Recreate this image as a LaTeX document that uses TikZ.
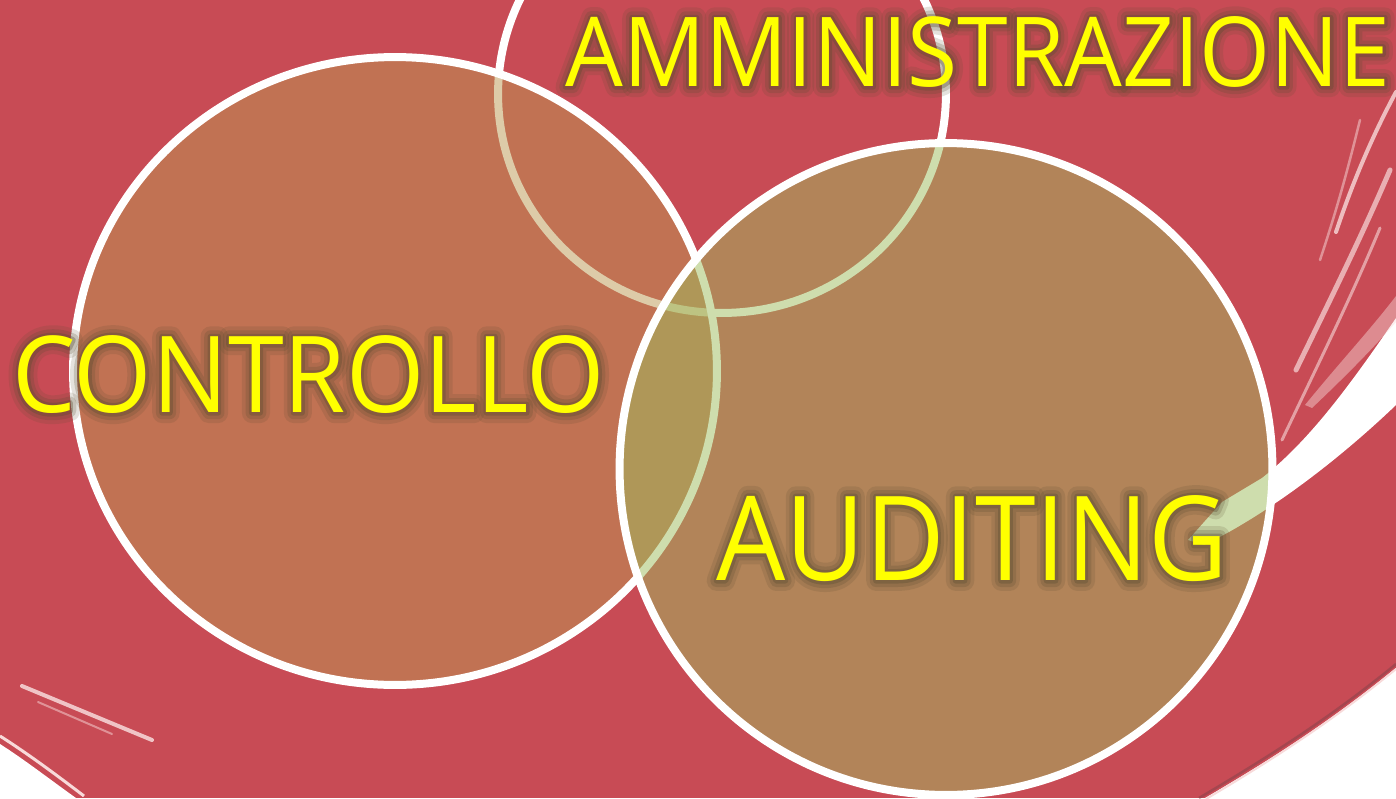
\documentclass[tikz,border=0pt]{standalone}
\usepackage{fontspec}
\setmainfont{Open Sans}
\definecolor{bgred}{HTML}{C84B55}
\definecolor{ctrlfill}{HTML}{BC9953}
\definecolor{audfill}{HTML}{9EBD5D}
\definecolor{glowc}{HTML}{5A4C30}
\definecolor{txtyellow}{HTML}{FFFF00}
\definecolor{streakc}{HTML}{F8DADA}
\definecolor{edgec}{HTML}{7A4048}

% #1 name, #2 x, #3 baseline y, #4 width, #5 height, #6 font size, #7 text
\newcommand\glowlabel[7]{%
  \foreach \glw/\glop in {12/0.16,7.5/0.22,3.5/0.34}{%
    \node[glowlbl] (#1-glow\glw) at (#2,#3) {\fontsize{#6}{#6}\selectfont
      \pgfsetstrokeopacity{\glop}%
      \special{pdf:literal direct 1 Tr \glw\space w 1 j 1 J}%
      \resizebox{#4}{#5}{#7}%
      \special{pdf:literal direct 0 Tr}};
  }%
  \node[lbl] (#1) at (#2,#3) {\fontsize{#6}{#6}\selectfont\resizebox{#4}{#5}{#7}};
}

\begin{document}
\begin{tikzpicture}[x=0.02cm,y=-0.02cm,
  ring/.style={draw=white,line width=0.16cm},
  glowlbl/.style={inner sep=0pt,anchor=south west,text=glowc},
  lbl/.style={inner sep=0pt,anchor=south west,text=txtyellow},
  streakline/.style={draw=streakc,line cap=round,line join=round}]

\useasboundingbox (0,0) rectangle (1396,798);
\clip (0,0) rectangle (1396,798);

% background
\fill[bgred] (0,0) rectangle (1396,798);

% white corners
\fill[white] (1396,668) .. controls (1330,722) and (1270,760) .. (1205,798) -- (1396,798) -- cycle;
\draw[edgec,line width=0.05cm,opacity=0.45] (1396,664) .. controls (1330,718) and (1270,756) .. (1199,798);
\draw[streakc,line width=0.04cm] (1396,669) .. controls (1330,723) and (1270,761) .. (1206,799);
\fill[white] (0,744) .. controls (25,760) and (48,778) .. (76,798) -- (0,798) -- cycle;
\draw[streakc,line width=0.06cm] (0,736) .. controls (25,752) and (50,770) .. (84,796);

% streaks on the right
\fill[white] (1396,318) .. controls (1350,385) and (1310,440) .. (1262,478)
  -- (1222,502) -- (1188,540) -- (1204,545)
  .. controls (1260,518) and (1330,468) .. (1396,405) -- cycle;
\fill[streakc,opacity=0.45] (1396,296) .. controls (1370,330) and (1340,362) .. (1305,405)
  -- (1312,408) .. controls (1350,372) and (1375,346) .. (1396,322) -- cycle;
\draw[streakline,line width=0.08cm,opacity=0.8] (1396,92) .. controls (1370,140) and (1350,190) .. (1336,232);
\draw[streakline,line width=0.1cm,opacity=0.7] (1390,170) .. controls (1360,240) and (1330,300) .. (1296,370);
\draw[streakline,line width=0.06cm,opacity=0.6] (1380,228) .. controls (1350,300) and (1320,360) .. (1282,440);
\draw[streakline,line width=0.05cm,opacity=0.5] (1360,120) .. controls (1350,160) and (1340,200) .. (1320,260);

% streak bottom left
\draw[streakline,line width=0.08cm,opacity=0.85] (22,686) -- (152,740);
\draw[streakline,line width=0.04cm,opacity=0.5] (38,702) -- (112,734);

% circles
\draw[ring] (722,94) ellipse [x radius=4.48cm, y radius=4.38cm];
\path[ring,fill=ctrlfill,fill opacity=0.5] (395,371) ellipse [x radius=6.44cm, y radius=6.28cm];
\path[ring,fill=audfill,fill opacity=0.5] (946,469) ellipse [x radius=6.53cm, y radius=6.52cm];

% labels
\glowlabel{amm}{565}{88}{16.5cm}{1.4cm}{56pt}{AMMINISTRAZIONE}
\glowlabel{ctrl}{12}{414}{11.86cm}{1.54cm}{61pt}{CONTROLLO}
\glowlabel{aud}{716}{582}{10.24cm}{1.70cm}{68pt}{AUDITING}

\end{tikzpicture}
\end{document}
